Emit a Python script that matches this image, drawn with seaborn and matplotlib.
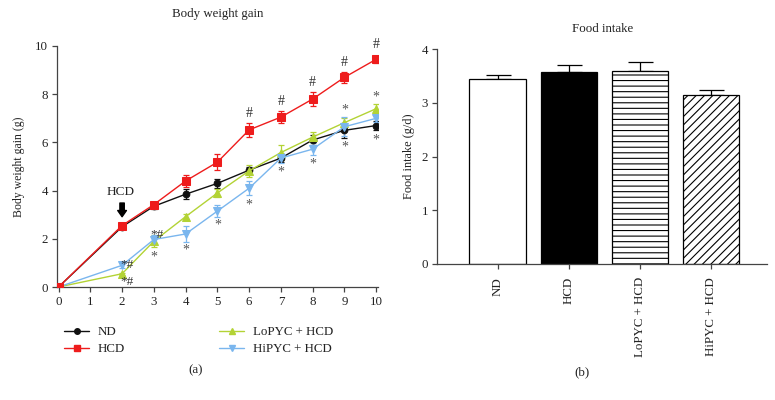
import matplotlib
matplotlib.use("Agg")
import matplotlib.pyplot as plt
import seaborn as sns
import numpy as np
from matplotlib.lines import Line2D

# body weight gain (g) per week, mean and SEM
weeks = [0, 2, 3, 4, 5, 6, 7, 8, 9, 10]
nd_gain = [0, 2.50, 3.35, 3.85, 4.30, 4.85, 5.35, 6.10, 6.50, 6.70]
nd_err = [0, 0.10, 0.10, 0.20, 0.20, 0.15, 0.15, 0.20, 0.30, 0.20]
hcd_gain = [0, 2.55, 3.42, 4.40, 5.18, 6.52, 7.05, 7.80, 8.70, 9.45]
hcd_err = [0, 0.10, 0.12, 0.25, 0.32, 0.30, 0.25, 0.30, 0.22, 0.15]
lo_gain = [0, 0.55, 1.90, 2.92, 3.90, 4.82, 5.58, 6.22, 6.82, 7.40]
lo_err = [0, 0.05, 0.25, 0.10, 0.15, 0.25, 0.30, 0.20, 0.20, 0.20]
hi_gain = [0, 0.90, 1.97, 2.20, 3.15, 4.10, 5.35, 5.72, 6.65, 7.00]
hi_err = [0, 0.10, 0.20, 0.32, 0.25, 0.30, 0.20, 0.25, 0.40, 0.15]

# significance marks (week, value, text)
marks = [
    (2.15, 0.92, "*#"), (2.15, 0.22, "*#"), (3.1, 2.15, "*#"), (3.0, 1.25, "*"),
    (4, 1.55, "*"), (5, 2.55, "*"), (6, 3.4, "*"), (7, 4.75, "*"),
    (8, 5.1, "*"), (9, 5.8, "*"), (10, 6.1, "*"), (9, 7.35, "*"), (10, 7.9, "*"),
    (6, 7.2, "#"), (7, 7.7, "#"), (8, 8.5, "#"), (9, 9.3, "#"), (10, 10.05, "#"),
]

# food intake (g/d)
groups = ["ND", "HCD", "LoPYC + HCD", "HiPYC + HCD"]
intake = [3.45, 3.58, 3.60, 3.14]
intake_err = [0.07, 0.12, 0.15, 0.10]

sns.set_theme(style="ticks")
plt.rcParams["font.family"] = ["Liberation Serif", "DejaVu Serif"]
plt.rcParams["font.size"] = 9
plt.rcParams["hatch.linewidth"] = 0.8
txt = "#222222"
spine = "#444444"

fig = plt.figure(figsize=(7.75, 4), dpi=100)
ax1 = fig.add_axes([0.0735, 0.2825, 0.414, 0.6025])
ax2 = fig.add_axes([0.564, 0.34, 0.426, 0.5375])

# --- (a) body weight gain ---
series = [
    ("ND", nd_gain, nd_err, "#111111", "o", 4.8),
    ("LoPYC + HCD", lo_gain, lo_err, "#b3d335", "^", 5.2),
    ("HiPYC + HCD", hi_gain, hi_err, "#7ab6ee", "v", 5.2),
    ("HCD", hcd_gain, hcd_err, "#ee1c1c", "s", 5.8),
]
handles = {}
for nome, valori, errori, colore, marker, ms in series:
    ax1.errorbar(weeks, valori, yerr=errori, fmt="none", ecolor=colore,
                 elinewidth=0.9, capsize=2.5, capthick=0.9, zorder=2)
    sns.lineplot(x=weeks, y=valori, ax=ax1, color=colore, marker=marker,
                 markersize=ms, markeredgecolor=colore, linewidth=1, zorder=3)
    handles[nome] = Line2D([], [], color=colore, marker=marker, markersize=4,
                           markeredgecolor=colore, linewidth=1)

for x, y, s in marks:
    ax1.text(x, y, s, ha="center", va="center", fontsize=9.5 if s == "*#" else 10,
             color="#555555" if s == "*" else "#333333")

ax1.text(1.95, 3.95, "HCD", ha="center", va="center", fontsize=9.5, color=txt)
ax1.annotate("", xy=(2, 2.8), xytext=(2, 3.6),
             arrowprops=dict(arrowstyle="simple,head_width=0.7,head_length=0.5,tail_width=0.35",
                             color="black"))

ax1.set_xlim(-0.05, 10.05)
ax1.set_ylim(0, 10)
ax1.set_xticks(range(11))
ax1.set_yticks(range(0, 11, 2))
ax1.set_xlabel("")
ax1.set_ylabel("Body weight gain (g)", fontsize=8.5, color=txt, labelpad=7)
ax1.set_title("Body weight gain", fontsize=9.3, color=txt, pad=21)

fig.legend([handles[k] for k in ["ND", "HCD", "LoPYC + HCD", "HiPYC + HCD"]],
           ["ND", "HCD", "LoPYC + HCD", "HiPYC + HCD"],
           ncol=2, loc="upper left", bbox_to_anchor=(0.068, 0.213), frameon=False,
           fontsize=9.3, handlelength=1.9, handletextpad=0.7, columnspacing=7.3,
           labelspacing=0.35, labelcolor=txt)

# --- (b) food intake ---
sns.barplot(x=groups, y=intake, ax=ax2, color="white", edgecolor="black",
            linewidth=0.9, width=0.79, errorbar=None, saturation=1)
ax2.errorbar(range(len(groups)), intake, yerr=[np.zeros(len(intake)), intake_err],
             fmt="none", ecolor="black", elinewidth=0.9, capsize=9, capthick=0.9, zorder=1)
facce = ["white", "black", "white", "white"]
tratteggi = [None, None, "---", "////"]
for patch, fc, h in zip(ax2.patches, facce, tratteggi):
    patch.set_facecolor(fc)
    patch.set_zorder(2)
    if h:
        patch.set_hatch(h)

ax2.set_xlim(-0.85, 3.79)
ax2.set_ylim(0, 4)
ax2.set_yticks(range(5))
ax2.set_xlabel("")
ax2.set_ylabel("Food intake (g/d)", fontsize=8.8, color=txt, labelpad=5)
ax2.set_title("Food intake", fontsize=9.3, color=txt, pad=12)

for ax in (ax1, ax2):
    sns.despine(ax=ax)
    for s in ("left", "bottom"):
        ax.spines[s].set_color(spine)
        ax.spines[s].set_linewidth(0.9)
    ax.tick_params(length=3.5, width=0.9, color=spine, labelsize=9.3,
                   labelcolor=txt, pad=3)
ax2.tick_params(axis="x", labelrotation=90, pad=6)

fig.text(0.252, 0.075, "(a)", ha="center", va="center", fontsize=9.3, color=txt)
fig.text(0.751, 0.07, "(b)", ha="center", va="center", fontsize=9.3, color=txt)

fig.savefig("out.png", dpi=100)
